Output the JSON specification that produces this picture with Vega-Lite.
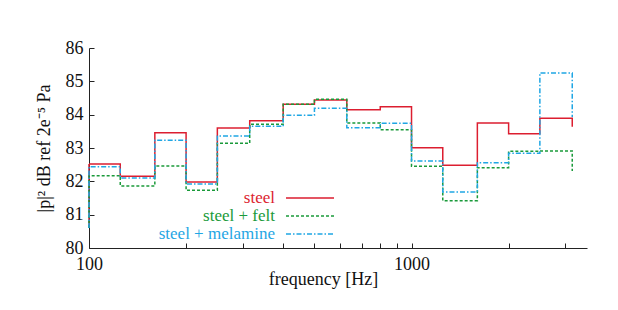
{
  "$schema": "https://vega.github.io/schema/vega-lite/v6.json",
  "width": 498,
  "height": 200,
  "autosize": "none",
  "padding": {"left": 89, "top": 48, "right": 31, "bottom": 62},
  "background": "white",
  "config": {
    "view": {"stroke": null},
    "font": "Liberation Serif",
    "axis": {"labelFont": "Liberation Serif", "titleFont": "Liberation Serif", "labelFontSize": 18, "titleFontSize": 18, "titleFontWeight": "normal", "labelColor": "#111", "titleColor": "#111", "domainColor": "#222", "tickColor": "#222", "grid": false},
    "legend": {"labelFont": "Liberation Serif", "labelFontSize": 17}
  },
  "data": {"values": [
    {"s": "steel", "i": 0, "f": 100, "v": 80.6},
    {"s": "steel", "i": 1, "f": 100, "v": 82.52},
    {"s": "steel", "i": 2, "f": 125, "v": 82.15},
    {"s": "steel", "i": 3, "f": 160, "v": 83.46},
    {"s": "steel", "i": 4, "f": 200, "v": 81.98},
    {"s": "steel", "i": 5, "f": 250, "v": 83.6},
    {"s": "steel", "i": 6, "f": 315, "v": 83.82},
    {"s": "steel", "i": 7, "f": 400, "v": 84.31},
    {"s": "steel", "i": 8, "f": 500, "v": 84.44},
    {"s": "steel", "i": 9, "f": 630, "v": 84.15},
    {"s": "steel", "i": 10, "f": 800, "v": 84.24},
    {"s": "steel", "i": 11, "f": 1000, "v": 83.01},
    {"s": "steel", "i": 12, "f": 1250, "v": 82.48},
    {"s": "steel", "i": 13, "f": 1600, "v": 83.75},
    {"s": "steel", "i": 14, "f": 2000, "v": 83.43},
    {"s": "steel", "i": 15, "f": 2500, "v": 83.89},
    {"s": "steel", "i": 16, "f": 3150, "v": 83.64},
    {"s": "steel + felt", "i": 0, "f": 100, "v": 80.6},
    {"s": "steel + felt", "i": 1, "f": 100, "v": 82.17},
    {"s": "steel + felt", "i": 2, "f": 125, "v": 81.86},
    {"s": "steel + felt", "i": 3, "f": 160, "v": 82.46},
    {"s": "steel + felt", "i": 4, "f": 200, "v": 81.73},
    {"s": "steel + felt", "i": 5, "f": 250, "v": 83.14},
    {"s": "steel + felt", "i": 6, "f": 315, "v": 83.71},
    {"s": "steel + felt", "i": 7, "f": 400, "v": 84.31},
    {"s": "steel + felt", "i": 8, "f": 500, "v": 84.46},
    {"s": "steel + felt", "i": 9, "f": 630, "v": 83.75},
    {"s": "steel + felt", "i": 10, "f": 800, "v": 83.55},
    {"s": "steel + felt", "i": 11, "f": 1000, "v": 82.45},
    {"s": "steel + felt", "i": 12, "f": 1250, "v": 81.42},
    {"s": "steel + felt", "i": 13, "f": 1600, "v": 82.41},
    {"s": "steel + felt", "i": 14, "f": 2000, "v": 82.9},
    {"s": "steel + felt", "i": 15, "f": 2500, "v": 82.91},
    {"s": "steel + felt", "i": 16, "f": 3150, "v": 82.31},
    {"s": "steel + melamine", "i": 0, "f": 100, "v": 80.6},
    {"s": "steel + melamine", "i": 1, "f": 100, "v": 82.44},
    {"s": "steel + melamine", "i": 2, "f": 125, "v": 82.1},
    {"s": "steel + melamine", "i": 3, "f": 160, "v": 83.23},
    {"s": "steel + melamine", "i": 4, "f": 200, "v": 81.92},
    {"s": "steel + melamine", "i": 5, "f": 250, "v": 83.36},
    {"s": "steel + melamine", "i": 6, "f": 315, "v": 83.65},
    {"s": "steel + melamine", "i": 7, "f": 400, "v": 83.98},
    {"s": "steel + melamine", "i": 8, "f": 500, "v": 84.19},
    {"s": "steel + melamine", "i": 9, "f": 630, "v": 83.61},
    {"s": "steel + melamine", "i": 10, "f": 800, "v": 83.74},
    {"s": "steel + melamine", "i": 11, "f": 1000, "v": 82.61},
    {"s": "steel + melamine", "i": 12, "f": 1250, "v": 81.68},
    {"s": "steel + melamine", "i": 13, "f": 1600, "v": 82.56},
    {"s": "steel + melamine", "i": 14, "f": 2000, "v": 82.84},
    {"s": "steel + melamine", "i": 15, "f": 2500, "v": 85.25},
    {"s": "steel + melamine", "i": 16, "f": 3150, "v": 83.93}
  ]},
  "mark": {"type": "line", "interpolate": "step-after", "strokeWidth": 1.5},
  "encoding": {
    "x": {
      "field": "f", "type": "quantitative",
      "scale": {"type": "log", "domain": [100, 3500], "nice": false},
      "axis": {
        "title": "frequency [Hz]",
        "values": [100, 200, 300, 400, 500, 600, 700, 800, 900, 1000, 2000, 3000],
        "labelExpr": "datum.value == 100 || datum.value == 1000 ? format(datum.value, 'd') : ''",
        "tickSize": -5,
        "labelPadding": 12,
        "labelDx": 5,
        "labelFlush": false,
        "titleX": 234,
        "titleY": 36,
        "titleBaseline": "alphabetic"
      }
    },
    "y": {
      "field": "v", "type": "quantitative",
      "scale": {"domain": [80, 86], "nice": false, "zero": false},
      "axis": {
        "title": "|p|² dB ref 2e⁻⁵  Pa",
        "values": [80, 81, 82, 83, 84, 85, 86],
        "tickSize": -5,
        "labelPadding": 11,
        "titleX": -40,
        "titleBaseline": "alphabetic"
      }
    },
    "order": {"field": "i", "type": "quantitative"},
    "color": {
      "field": "s", "type": "nominal",
      "scale": {"domain": ["steel", "steel + felt", "steel + melamine"], "range": ["#dc1e30", "#1a9a3a", "#1fa6e4"]},
      "legend": {
        "title": null,
        "orient": "none",
        "legendX": 212,
        "legendY": 141,
        "padding": 0,
        "symbolType": "M-3,0H3",
        "symbolSize": 256,
        "symbolStrokeWidth": 1.5,
        "labelAlign": "right",
        "labelOffset": -44,
        "rowPadding": 1,
        "labelLimit": 300,
        "encode": {"labels": {"update": {"fill": {"scale": "color", "field": "value"}}}}
      }
    },
    "strokeDash": {
      "field": "s", "type": "nominal",
      "scale": {"domain": ["steel", "steel + felt", "steel + melamine"], "range": [[1, 0], [3, 2], [5, 2, 1.5, 2]]},
      "legend": {"title": null}
    }
  }
}
